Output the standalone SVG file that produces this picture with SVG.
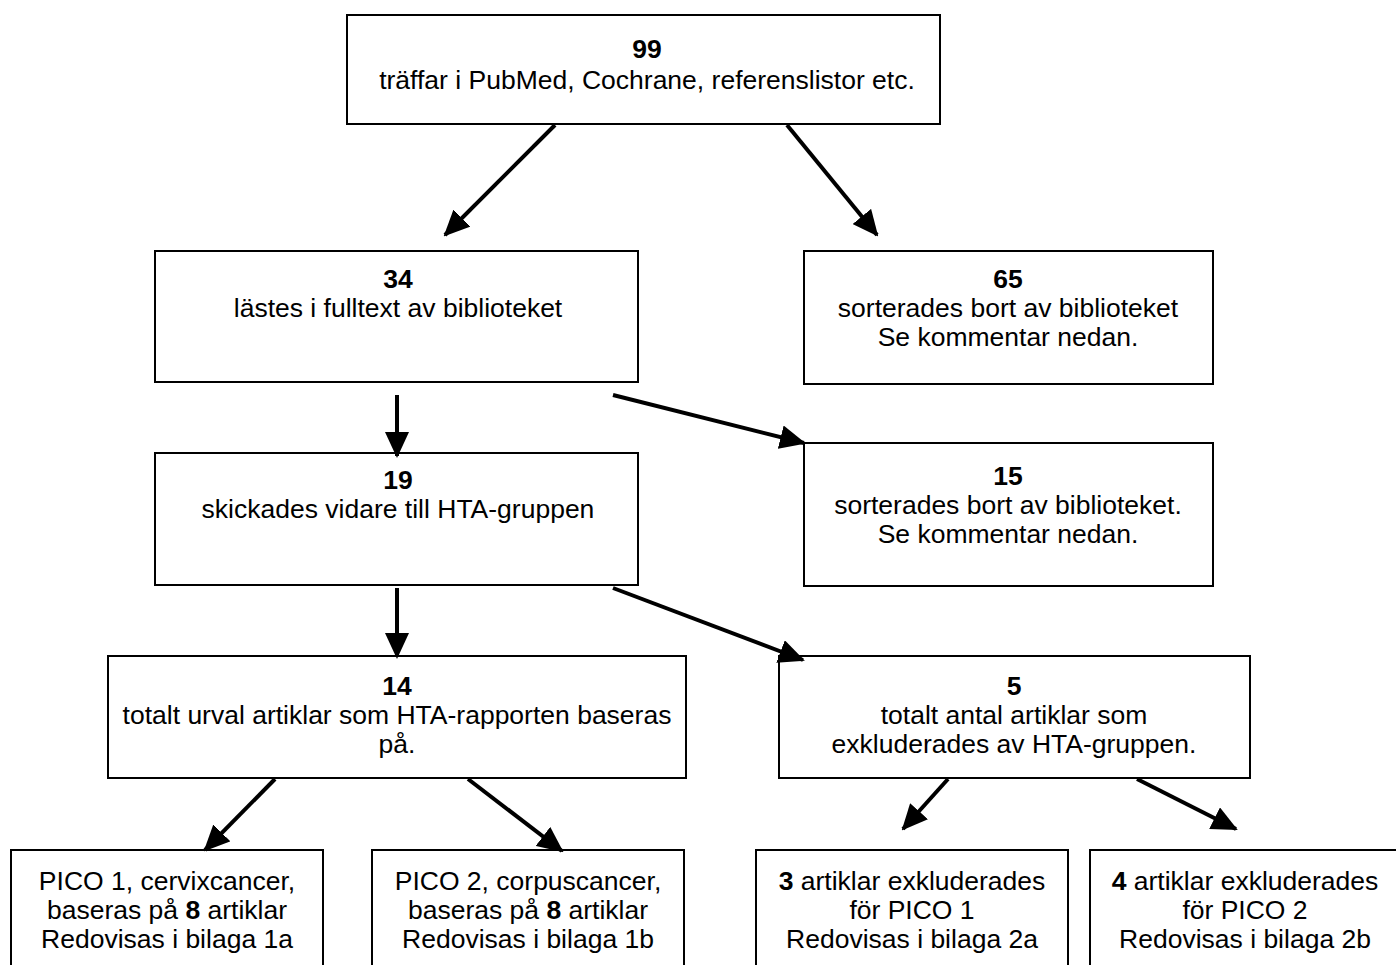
<svg xmlns="http://www.w3.org/2000/svg" width="1396" height="965" viewBox="0 0 1396 965">
<defs>
<marker id="ah" markerUnits="userSpaceOnUse" markerWidth="26" markerHeight="24" viewBox="0 0 26 24" refX="24" refY="12" orient="auto">
<path d="M0,0 L26,12 L0,24 Z" fill="#000"/>
</marker>
</defs>
<style>
rect{fill:#fff;stroke:#000;stroke-width:2}
text{font-family:"Liberation Sans",Arial,sans-serif;font-size:26.5px;fill:#000;text-anchor:middle}
.b{font-weight:bold}
.c line{stroke:#000;stroke-width:4;marker-end:url(#ah)}
</style>
<rect x="0" y="0" width="1396" height="965" style="fill:#fff;stroke:none"/>
<g id="n99"><rect x="347" y="15" width="593" height="109"/>
<text x="647" y="58" class="b">99</text><text x="647" y="89">träffar i PubMed, Cochrane, referenslistor etc.</text></g>
<g id="n34"><rect x="155" y="251" width="483" height="131"/>
<text x="398" y="288" class="b">34</text><text x="398" y="317">lästes i fulltext av biblioteket</text></g>
<g id="n65"><rect x="804" y="251" width="409" height="133"/>
<text x="1008" y="288" class="b">65</text><text x="1008" y="317">sorterades bort av biblioteket</text><text x="1008" y="346">Se kommentar nedan.</text></g>
<g id="n19"><rect x="155" y="453" width="483" height="132"/>
<text x="398" y="489" class="b">19</text><text x="398" y="518">skickades vidare till HTA-gruppen</text></g>
<g id="n15"><rect x="804" y="443" width="409" height="143"/>
<text x="1008" y="485" class="b">15</text><text x="1008" y="514">sorterades bort av biblioteket.</text><text x="1008" y="543">Se kommentar nedan.</text></g>
<g id="n14"><rect x="108" y="656" width="578" height="122"/>
<text x="397" y="695" class="b">14</text><text x="397" y="724">totalt urval artiklar som HTA-rapporten baseras</text><text x="397" y="753">på.</text></g>
<g id="n5"><rect x="779" y="656" width="471" height="122"/>
<text x="1014" y="695" class="b">5</text><text x="1014" y="724">totalt antal artiklar som</text><text x="1014" y="753">exkluderades av HTA-gruppen.</text></g>
<g id="p1"><rect x="11" y="850" width="312" height="125"/>
<text x="167" y="890">PICO 1, cervixcancer,</text><text x="167" y="919">baseras på <tspan class="b">8</tspan> artiklar</text><text x="167" y="948">Redovisas i bilaga 1a</text></g>
<g id="p2"><rect x="372" y="850" width="312" height="125"/>
<text x="528" y="890">PICO 2, corpuscancer,</text><text x="528" y="919">baseras på <tspan class="b">8</tspan> artiklar</text><text x="528" y="948">Redovisas i bilaga 1b</text></g>
<g id="e1"><rect x="756" y="850" width="312" height="125"/>
<text x="912" y="890"><tspan class="b">3</tspan> artiklar exkluderades</text><text x="912" y="919">för PICO 1</text><text x="912" y="948">Redovisas i bilaga 2a</text></g>
<g id="e2"><rect x="1090" y="850" width="312" height="125"/>
<text x="1245" y="890"><tspan class="b">4</tspan> artiklar exkluderades</text><text x="1245" y="919">för PICO 2</text><text x="1245" y="948">Redovisas i bilaga 2b</text></g>
<g class="c" id="connectors">
<line x1="555" y1="125" x2="445" y2="235"/>
<line x1="787" y1="125" x2="877" y2="235"/>
<line x1="397" y1="395" x2="397" y2="456"/>
<line x1="613" y1="395" x2="804" y2="443"/>
<line x1="397" y1="588" x2="397" y2="657"/>
<line x1="613" y1="588" x2="803" y2="660"/>
<line x1="275" y1="779" x2="205" y2="850"/>
<line x1="468" y1="779" x2="562" y2="851"/>
<line x1="948" y1="779" x2="903" y2="829"/>
<line x1="1137" y1="779" x2="1236" y2="829"/>
</g>
</svg>
